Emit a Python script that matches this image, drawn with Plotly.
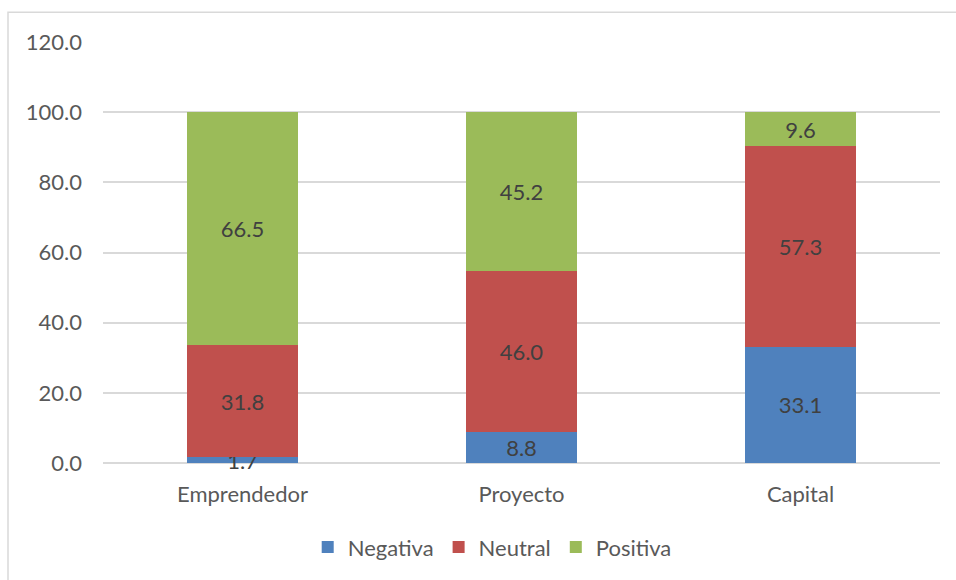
import plotly.graph_objects as go

categories = ["Emprendedor", "Proyecto", "Capital"]
negativa = [1.7, 8.8, 33.1]
neutral = [31.8, 46.0, 57.3]
positiva = [66.5, 45.2, 9.6]
tick_vals = [0, 20, 40, 60, 80, 100, 120]
tick_text = ["0.0", "20.0", "40.0", "60.0", "80.0", "100.0", "120.0"]

FONT = "Lato, Calibri, Carlito, sans-serif"
FS = 22
series = [
    ("Negativa", negativa, "#4F81BD"),
    ("Neutral", neutral, "#C0504D"),
    ("Positiva", positiva, "#9BBB59"),
]

fig = go.Figure()
for name, vals, color in series:
    fig.add_trace(go.Bar(
        name=name, x=categories, y=vals,
        marker=dict(color=color, line=dict(width=0)),
        text=[f"{v:.1f}" for v in vals],
        textposition="inside", insidetextanchor="middle", textangle=0,
        textfont=dict(family=FONT, size=FS, color="#404040"),
        cliponaxis=False,
    ))

W, H = 956, 580
L, R, T, B = 103, 16, 42, 114
pw, ph = W - L - R, H - T - B

fig.update_layout(
    width=W, height=H,
    barmode="stack", bargap=0.6,
    margin=dict(l=L, r=R, t=T, b=B),
    paper_bgcolor="white", plot_bgcolor="white",
    font=dict(family=FONT, size=FS, color="#595959"),
    uniformtext=dict(minsize=FS, mode="show"),
    showlegend=True,
    legend=dict(orientation="h", x=0.465, xanchor="center", y=-0.2, yanchor="middle",
                font=dict(family=FONT, size=FS, color="#595959"),
                itemwidth=30, traceorder="normal"),
    xaxis=dict(showline=False, ticks="", showgrid=False, ticklabelstandoff=16,
               tickfont=dict(family=FONT, size=FS, color="#595959")),
    yaxis=dict(range=[0, 120], tickvals=tick_vals, ticktext=tick_text,
               showgrid=True, gridcolor="#D9D9D9", gridwidth=1.5,
               zeroline=True, zerolinecolor="#D9D9D9", zerolinewidth=1.5,
               showline=False, ticks="", ticklen=0, ticklabelstandoff=20,
               tickfont=dict(family=FONT, size=FS, color="#595959")),
    shapes=[dict(type="rect", xref="paper", yref="paper",
                 x0=(8 - L) / pw, x1=(970 - L) / pw,
                 y0=(H - 600 - B) / ph, y1=(H - B - 12) / ph,
                 line=dict(color="#D9D9D9", width=1.5), fillcolor="rgba(0,0,0,0)",
                 layer="below")],
)

fig.write_html("out.html")
